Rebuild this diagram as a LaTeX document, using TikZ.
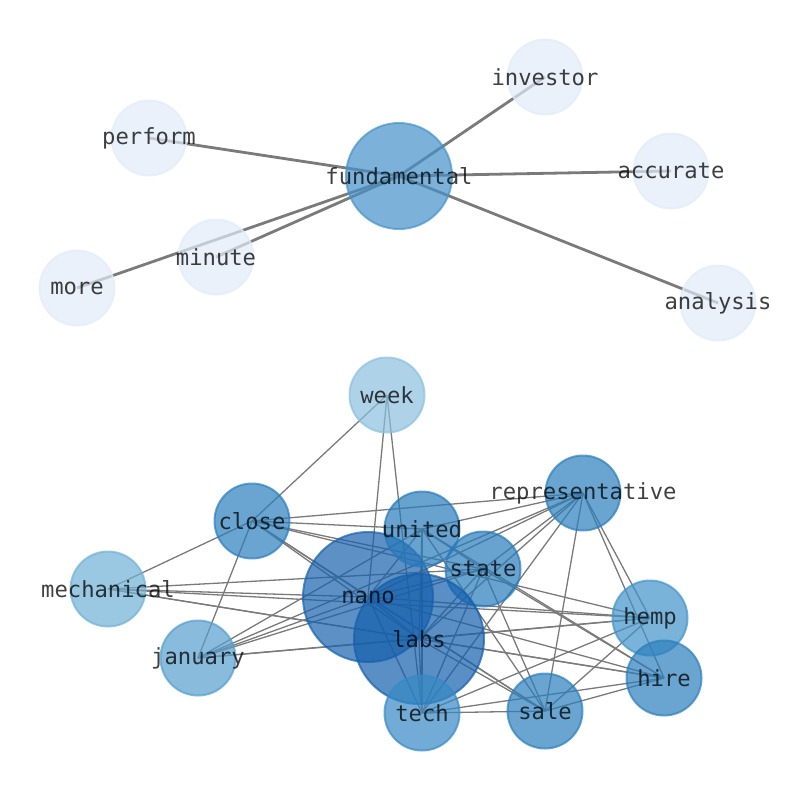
\documentclass[tikz,border=0pt]{standalone}
\usepackage{fontspec}
\newfontfamily\lblfont{DejaVu Sans Mono}
\definecolor{cleaf}{HTML}{E1EBF8}
\definecolor{cfund}{HTML}{4592C9}
\definecolor{cweek}{HTML}{8BC0DE}
\definecolor{cmech}{HTML}{6FB1D6}
\definecolor{cjan}{HTML}{559ECD}
\definecolor{chemp}{HTML}{4293CA}
\definecolor{ctech}{HTML}{3689C5}
\definecolor{cmid}{HTML}{2A7FBC}
\definecolor{cunit}{HTML}{287ABB}
\definecolor{cnano}{HTML}{1862AE}
\definecolor{clabs}{HTML}{145FAC}
\definecolor{cedge}{HTML}{7A7A7A}
\tikzset{
  gnode/.style 2 args={circle, inner sep=0pt, minimum size=#2, line width=2pt,
    fill=#1, draw=#1, fill opacity=0.7, draw opacity=0.7},
  lbl/.style={font=\lblfont\fontsize{22.2}{26}\selectfont, text=black, text opacity=0.75, inner sep=0pt},
  topedge/.style={draw=cedge, line width=2.8pt},
  botedge/.style={draw=cedge, line width=1.3pt},
}
\begin{document}
\begin{tikzpicture}[x=1pt, y=-1pt]
\useasboundingbox (0,0) rectangle (794,790);
% positions
\coordinate (fundamental) at (399,176);
\coordinate (investor) at (545,77);
\coordinate (perform) at (149,138);
\coordinate (accurate) at (671,171);
\coordinate (minute) at (216,257);
\coordinate (more) at (77,288);
\coordinate (analysis) at (718,303);
\coordinate (week) at (387,395);
\coordinate (close) at (252,521);
\coordinate (united) at (422,529);
\coordinate (representative) at (583,493);
\coordinate (state) at (483,569);
\coordinate (mechanical) at (108,589);
\coordinate (nano) at (368,597);
\coordinate (labs) at (419,639);
\coordinate (hemp) at (650,618);
\coordinate (january) at (198,658);
\coordinate (hire) at (664,678);
\coordinate (tech) at (422,713);
\coordinate (sale) at (545,711);
% top edges
\foreach \b in {investor,perform,accurate,minute,more,analysis}
  \draw[topedge] (fundamental) -- (\b);
% bottom edges
\foreach \a/\b in {week/close,week/nano,week/tech,
  close/mechanical,close/january,close/united,close/representative,close/state,close/hemp,close/nano,close/labs,close/sale,
  mechanical/state,mechanical/nano,mechanical/hemp,mechanical/labs,mechanical/hire,
  january/united,january/representative,january/state,january/nano,january/labs,january/hemp,
  united/representative,united/state,united/nano,united/labs,united/tech,united/sale,united/hire,
  representative/state,representative/nano,representative/labs,representative/tech,representative/sale,representative/hemp,representative/hire,
  state/nano,state/labs,state/tech,state/sale,state/hire,
  nano/labs,nano/tech,nano/sale,nano/hemp,nano/hire,
  labs/tech,labs/sale,labs/hemp,labs/hire,
  tech/sale,tech/hemp,tech/hire,
  sale/hemp,sale/hire}
  \draw[botedge] (\a) -- (\b);
% nodes
\node[gnode={cleaf}{75pt}] (n-investor) at (investor) {};
\node[gnode={cleaf}{75pt}] (n-perform) at (perform) {};
\node[gnode={cleaf}{75pt}] (n-accurate) at (accurate) {};
\node[gnode={cleaf}{75pt}] (n-minute) at (minute) {};
\node[gnode={cleaf}{75pt}] (n-more) at (more) {};
\node[gnode={cleaf}{75pt}] (n-analysis) at (analysis) {};
\node[gnode={cfund}{106pt}] (n-fundamental) at (fundamental) {};
\node[gnode={cweek}{75pt}] (n-week) at (week) {};
\node[gnode={cmid}{75pt}] (n-close) at (close) {};
\node[gnode={cmech}{75pt}] (n-mechanical) at (mechanical) {};
\node[gnode={cjan}{75pt}] (n-january) at (january) {};
\node[gnode={cnano}{130pt}] (n-nano) at (nano) {};
\node[gnode={cunit}{75pt}] (n-united) at (united) {};
\node[gnode={cmid}{75pt}] (n-representative) at (representative) {};
\node[gnode={cunit}{75pt}] (n-state) at (state) {};
\node[gnode={clabs}{130pt}] (n-labs) at (labs) {};
\node[gnode={chemp}{75pt}] (n-hemp) at (hemp) {};
\node[gnode={cmid}{75pt}] (n-hire) at (hire) {};
\node[gnode={ctech}{75pt}] (n-tech) at (tech) {};
\node[gnode={cmid}{75pt}] (n-sale) at (sale) {};
% labels
\foreach \n in {fundamental,investor,perform,accurate,minute,more,analysis,week,close,united,representative,state,mechanical,nano,labs,hemp,january,hire,tech,sale}
  \node[lbl] (t-\n) at (\n) {\n};
\end{tikzpicture}
\end{document}
